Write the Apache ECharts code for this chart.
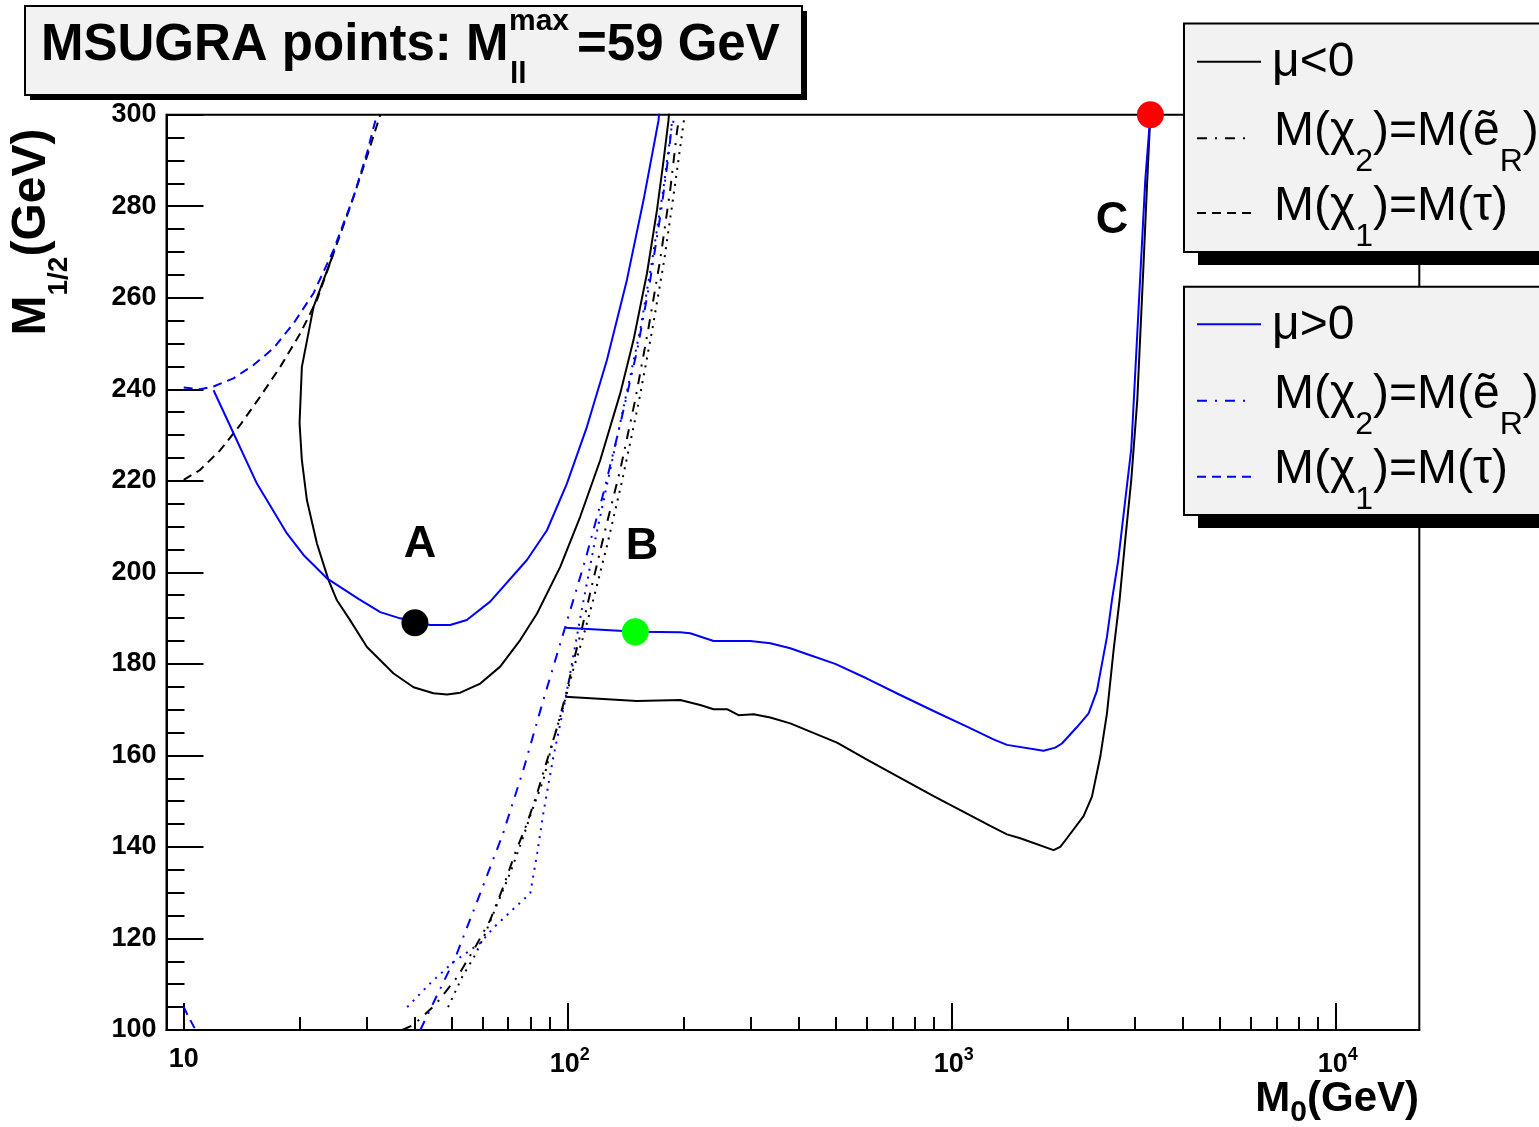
<!DOCTYPE html>
<html><head><meta charset="utf-8">
<script src="https://cdn.jsdelivr.net/npm/echarts@6/dist/echarts.min.js"></script>
<style>html,body{margin:0;padding:0;background:#fff}#c{width:1539px;height:1127px}</style>
</head><body><div id="c"></div>
<script>
// ---------- axis data ----------
const xMajorTicks = [10, 100, 1000, 10000];
const xMinorTicks = [20,30,40,50,60,70,80,90,200,300,400,500,600,700,800,900,2000,3000,4000,5000,6000,7000,8000,9000];
const xRange = [9.02, 16500];
const yRange = [100, 300];
const yStep = 20;

// ---------- mu<0 (black) ----------
const negSolidLeft = [[24.55,269.7],[21.78,258.0],[20.31,244.9],[20.03,232.6],[20.31,224.5],[20.93,215.8],[22.23,206.3],[23.83,198.3],[25.06,193.9],[27.14,189.5],[30.0,183.7],[32.5,180.8],[35.2,177.9],[39.67,174.9],[44.7,173.6],[48.5,173.3],[52.5,173.7],[59.2,175.7],[66.7,179.4],[75.2,185.2],[83.2,191.0],[95.6,201.2],[107.8,212.2],[121.5,224.5],[137.0,239.1],[148.4,250.8],[160.8,265.3],[170.8,279.2],[177.7,290.1],[183.0,298.8],[183.8,301]];
const negSolidRight = [[98.5,172.8],[151.4,171.9],[196.3,172.1],[221.3,171.0],[239.8,170.1],[259.8,170.1],[278.5,168.8],[304.8,169.0],[336.9,168.3],[379.7,167.0],[428.1,165.2],[502.5,162.8],[601.5,159.1],[734.3,155.1],[896.9,151.1],[1095.5,147.3],[1259.6,144.6],[1392.3,142.75],[1508,141.9],[1841,139.3],[1917,140.0],[1995,141.9],[2204,146.75],[2318,151.0],[2436,159.7],[2536,169.2],[2639,183.0],[2735,193.95],[2830,207.1],[2934,220.2],[3042,237.7],[3153,266.1],[3229,285.7],[3290,300]];
const negStauLine = [[10.0,220.2],[11.04,222.4],[12.45,226.7],[14.03,232.2],[15.82,238.4],[17.84,244.9],[20.11,252.2],[22.23,259.5],[24.55,269.7],[27.14,279.9],[30.0,290.8],[32.5,300]];
const negSelLine = [[37.07,100.0],[39.6,101.1],[45.2,105.5],[51.6,111.6],[57.4,118.1],[62.8,124.0],[67.9,131.2],[73.0,138.7],[78.4,145.2],[83.3,151.8],[88.4,159.0],[93.9,166.2],[98.5,172.75],[103.3,180.2],[109.1,188.05],[116.5,198.3],[125.2,209.25],[137.0,222.4],[149.9,237.7],[162.0,253.0],[174.1,268.3],[184.9,283.6],[192.8,296.7],[195.1,299.3]];
const negSelDotted = [[48.8,105.0],[53.1,111.6],[56.8,115.7],[60.3,120.1],[65.9,128.0],[70.8,134.3],[76.1,141.5],[81.3,148.7],[86.4,154.6],[91.7,163.4],[97.3,170.6],[103.3,178.65],[109.1,185.2],[116.5,193.95],[126.7,206.0],[138.7,220.2],[152.6,236.6],[166.0,253.0],[178.4,268.3],[189.5,283.6],[197.5,294.5],[201.1,299.3]];

// ---------- mu>0 (blue) ----------
const posSolidLeft = [[11.96,239.8],[13.48,230.4],[15.51,219.4],[18.57,208.5],[20.51,203.8],[23.60,198.7],[28.52,194.2],[32.5,191.3],[36.6,189.95],[43.85,188.5],[49.4,188.5],[54.6,189.6],[62.8,193.6],[78.3,202.7],[88.3,209.2],[99.5,219.4],[112.2,231.8],[126.5,246.4],[142.6,263.9],[157.6,281.4],[172.4,298.8],[173.2,301]];
const posSolidRight = [[98.5,187.9],[151.4,187.0],[196.3,186.9],[208.4,186.7],[239.8,185.0],[298.7,185.0],[336.9,184.5],[379.7,183.4],[428.1,181.9],[497.3,180.0],[601.5,176.8],[734.3,173.2],[896.9,169.7],[1095.5,166.3],[1284.4,163.5],[1392.3,162.3],[1734,161.0],[1860,161.7],[1936,162.6],[2119,166.2],[2272,169.2],[2388,174.1],[2536,185.9],[2613,193.95],[2714,202.7],[2830,215.8],[2934,227.0],[3060,256.4],[3191,285.7],[3290,300]];
const posStauLine = [[10.0,240.4],[11.04,240.0],[11.96,240.6],[13.48,242.4],[15.2,245.3],[17.14,249.0],[19.32,254.4],[21.78,261.0],[24.55,270.4],[27.7,282.1],[30.0,291.6],[31.85,300]];
const posStauLow = [[10.0,105.1],[10.23,103.3],[10.6,100.9],[10.75,100]];
const posSelLine = [[41.3,100.0],[50.9,115.7],[59.2,129.9],[67.9,143.0],[76.6,156.8],[86.4,172.1],[98.5,188.05],[111.1,202.7],[124.5,218.0],[137.8,233.3],[151.7,248.6],[164.0,263.9],[175.2,279.2],[183.8,292.3],[187.2,299.3]];
const posSelDotted = [[38.2,105.0],[43.9,110.25],[50.3,114.8],[59.2,119.0],[64.0,122.3],[71.7,126.2],[79.9,129.9],[83.3,138.7],[86.4,147.4],[91.7,159.6],[98.5,172.1],[103.3,181.5],[109.1,192.4],[117.9,207.1],[129.0,222.4],[141.1,237.7],[154.5,253.0],[166.0,268.3],[177.3,283.6],[186.0,296.7],[189.5,299.3]];

// ---------- benchmark points ----------
const pointA = [40, 189];
const pointB = [150, 187];
const pointC = [3290, 300];

// ---------- styling ----------
const FONT = "'Liberation Sans', Arial, Helvetica, sans-serif";
const BLACK = '#000000', BLUE = '#0000ff';
const DASHED = [9, 6], DASHDOT = [10, 8, 2, 8], DOTTED = [2, 6];

function lineSeries(name, data, color, type) {
  return { name, type: 'line', data, showSymbol: false, symbol: 'none', clip: true,
    lineStyle: { color, width: 2, type: type || 'solid' }, z: 3, silent: true };
}
function dotSeries(name, p, color) {
  return { name, type: 'scatter', data: [p], symbolSize: 27, itemStyle: { color, opacity: 1 }, z: 5, clip: false, silent: true };
}

const chart = echarts.init(document.getElementById('c'), null, { renderer: 'canvas' });

function boldText(x, y, text, size, align) {
  return { type: 'text', x, y, z: 60,
    style: { text, fill: '#000', fontFamily: FONT, fontWeight: 'bold', fontSize: size, align: align || 'left', verticalAlign: 'middle' } };
}
function legendBox(y0, h) {
  return [
    { type: 'rect', z: 50, shape: { x: 1198, y: y0 + 13, width: 400, height: h }, style: { fill: '#000' } },
    { type: 'rect', z: 51, shape: { x: 1184, y: y0, width: 400, height: h }, style: { fill: '#f2f2f2', stroke: '#000', lineWidth: 2 } }
  ];
}
function legendLine(y, x2, color, dash) {
  return { type: 'line', z: 52, shape: { x1: 1197, y1: y, x2, y2: y }, style: { stroke: color, lineWidth: 2, lineDash: dash || null } };
}
const subRich = { s: { fontFamily: FONT, fontSize: 32, fill: '#000', padding: [60, 0, 0, 0] } };
function legendText(x, y, text) {
  return { type: 'text', z: 53, x, y, style: { text, fill: '#000', fontFamily: FONT, fontSize: 48, verticalAlign: 'middle', align: 'left', rich: subRich } };
}

const option = {
  animation: false,
  backgroundColor: '#ffffff',
  grid: { left: 166.5, top: 114.7, right: 119.7, bottom: 97, show: true, borderColor: '#000', borderWidth: 2, backgroundColor: '#fff', containLabel: false },
  xAxis: [
    { type: 'log', logBase: 10, min: xRange[0], max: xRange[1], position: 'bottom',
      axisLine: { show: true, lineStyle: { color: '#000', width: 2 } },
      axisTick: { show: true, inside: true, length: 27, customValues: xMajorTicks, lineStyle: { color: '#000', width: 2 } },
      axisLabel: { show: true, customValues: xMajorTicks, margin: 16, color: '#000',
        formatter: v => { const e = Math.round(Math.log10(v)); return e === 1 ? '{b|10}' : '{p|10}{s|' + e + '}'; },
        rich: {
          b: { fontFamily: FONT, fontWeight: 'bold', fontSize: 27, color: '#000' },
          p: { fontFamily: FONT, fontWeight: 'bold', fontSize: 27, color: '#000', padding: [0, 0, 0, 4] },
          s: { fontFamily: FONT, fontWeight: 'bold', fontSize: 18, color: '#000', padding: [0, 0, 20, 0] }
        } },
      splitLine: { show: false } },
    { type: 'log', logBase: 10, min: xRange[0], max: xRange[1], position: 'bottom',
      axisLine: { show: false },
      axisTick: { show: true, inside: true, length: 13, customValues: xMinorTicks, lineStyle: { color: '#000', width: 2 } },
      axisLabel: { show: false }, splitLine: { show: false } }
  ],
  yAxis: { type: 'value', min: yRange[0], max: yRange[1], interval: yStep,
    axisLine: { show: true, lineStyle: { color: '#000', width: 2 } },
    axisTick: { show: true, inside: true, length: 37, lineStyle: { color: '#000', width: 2 } },
    minorTick: { show: true, splitNumber: 4, length: 18, lineStyle: { color: '#000', width: 2 } },
    axisLabel: { margin: 10, color: '#000', fontFamily: FONT, fontWeight: 'bold', fontSize: 27 },
    splitLine: { show: false } },
  series: [
    lineSeries('negSolidLeft', negSolidLeft, BLACK),
    lineSeries('negSolidRight', negSolidRight, BLACK),
    lineSeries('negStauLine', negStauLine, BLACK, DASHED),
    lineSeries('negSelLine', negSelLine, BLACK, DASHDOT),
    lineSeries('negSelDotted', negSelDotted, BLACK, DOTTED),
    lineSeries('posSolidLeft', posSolidLeft, BLUE),
    lineSeries('posSolidRight', posSolidRight, BLUE),
    lineSeries('posStauLine', posStauLine, BLUE, DASHED),
    lineSeries('posStauLow', posStauLow, BLUE, DASHED),
    lineSeries('posSelLine', posSelLine, BLUE, DASHDOT),
    lineSeries('posSelDotted', posSelDotted, BLUE, DOTTED),
    dotSeries('A', pointA, '#000000'),
    dotSeries('B', pointB, '#00ff00'),
    dotSeries('C', pointC, '#ff0000')
  ],
  graphic: [
    // title box
    { type: 'rect', z: 40, shape: { x: 30, y: 11, width: 777, height: 89 }, style: { fill: '#000' } },
    { type: 'rect', z: 41, shape: { x: 25, y: 6, width: 777, height: 89 }, style: { fill: '#f2f2f2', stroke: '#000', lineWidth: 2 } },
    boldText(41, 46, 'MSUGRA points: M', 51),
    boldText(509, 22, 'max', 30),
    boldText(510, 75, 'll', 30),
    boldText(577, 46, '=59 GeV', 51),
    // legends
    ...legendBox(23.5, 228.5),
    legendLine(61.7, 1261, BLACK),
    legendLine(138.3, 1253, BLACK, DASHDOT),
    legendLine(213, 1255, BLACK, DASHED),
    legendText(1272, 63, 'μ<0'),
    legendText(1274, 132, 'M(χ{s|2})=M(ẽ{s|R})'),
    legendText(1274, 207, 'M(χ{s|1})=M(τ)'),
    ...legendBox(286.7, 228.3),
    legendLine(324.3, 1261, BLUE),
    legendLine(400.7, 1253, BLUE, DASHDOT),
    legendLine(476.7, 1255, BLUE, DASHED),
    legendText(1272, 326, 'μ>0'),
    legendText(1274, 395, 'M(χ{s|2})=M(ẽ{s|R})'),
    legendText(1274, 470, 'M(χ{s|1})=M(τ)'),
    // axis titles
    { type: 'text', z: 30, x: 32, y: 232, rotation: Math.PI / 2,
      style: { text: 'M{s|1/2}(GeV)', fill: '#000', fontFamily: FONT, fontWeight: 'bold', fontSize: 48, align: 'center', verticalAlign: 'middle',
        rich: { s: { fontFamily: FONT, fontWeight: 'bold', fontSize: 28, fill: '#000', padding: [54, 0, 0, 0] } } } },
    { type: 'text', z: 30, x: 1419, y: 1099,
      style: { text: 'M{s|0}(GeV)', fill: '#000', fontFamily: FONT, fontWeight: 'bold', fontSize: 42, align: 'right', verticalAlign: 'middle',
        rich: { s: { fontFamily: FONT, fontWeight: 'bold', fontSize: 30, fill: '#000', padding: [28, 0, 0, 0] } } } },
    // point labels
    boldText(420, 545, 'A', 45, 'center'),
    boldText(642, 547, 'B', 45, 'center'),
    boldText(1112, 221, 'C', 45, 'center')
  ]
};
chart.setOption(option);
</script></body></html>
